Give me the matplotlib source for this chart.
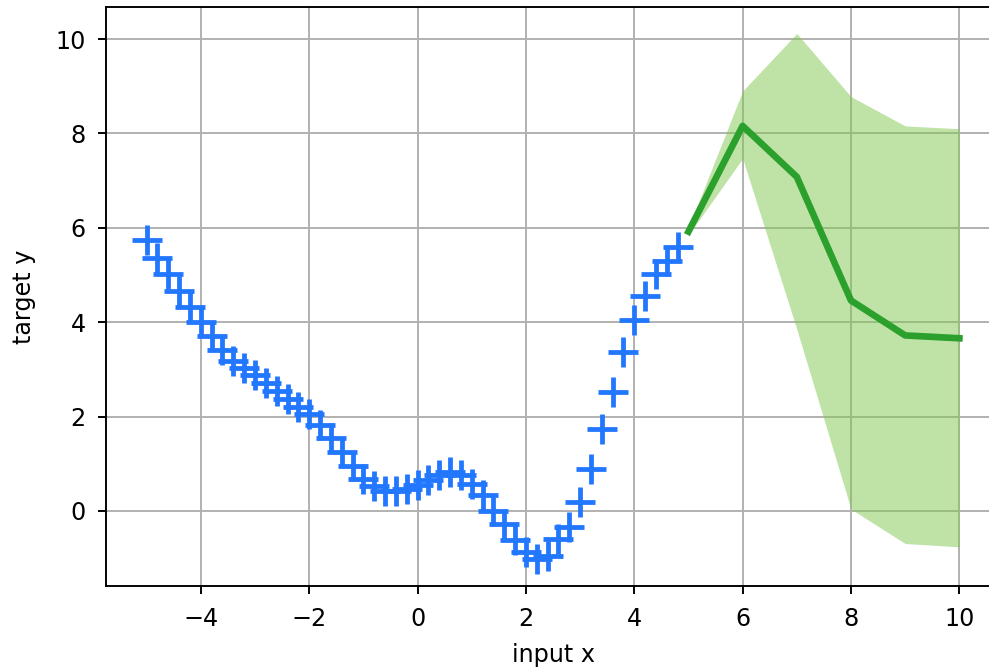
import numpy as np
import matplotlib
matplotlib.use("Agg")
import matplotlib.pyplot as plt

# training samples
x_train = [-5.0, -4.8, -4.6, -4.4, -4.2, -4.0, -3.8, -3.6, -3.4, -3.2,
           -3.0, -2.8, -2.6, -2.4, -2.2, -2.0, -1.8, -1.6, -1.4, -1.2,
           -1.0, -0.8, -0.6, -0.4, -0.2, 0.0, 0.2, 0.4, 0.6, 0.8,
           1.0, 1.2, 1.4, 1.6, 1.8, 2.0, 2.2, 2.4, 2.6, 2.8,
           3.0, 3.2, 3.4, 3.6, 3.8, 4.0, 4.2, 4.4, 4.6, 4.8]
y_train = [5.75, 5.36, 5.02, 4.67, 4.33, 4.00, 3.70, 3.42, 3.18, 3.03,
           2.89, 2.72, 2.55, 2.38, 2.20, 2.05, 1.82, 1.54, 1.25, 0.95,
           0.68, 0.52, 0.43, 0.42, 0.46, 0.54, 0.66, 0.76, 0.82, 0.76,
           0.58, 0.34, 0.00, -0.28, -0.62, -0.88, -1.02, -0.95, -0.60, -0.35,
           0.20, 0.88, 1.73, 2.52, 3.37, 4.05, 4.56, 5.02, 5.30, 5.60]

# forecast with uncertainty band
x_pred = [5, 6, 7, 8, 9, 10]
y_pred = [5.92, 8.16, 7.08, 4.46, 3.72, 3.66]
y_upper = [6.00, 8.90, 10.12, 8.78, 8.16, 8.10]
y_lower = [5.85, 7.47, 3.85, 0.04, -0.69, -0.76]

DPI = 172
fig = plt.figure(figsize=(990 / DPI, 670 / DPI), dpi=DPI)
ax = fig.add_axes([106 / 990, 84 / 670, 894 / 990, 579 / 670])

ax.fill_between(x_pred, y_lower, y_upper, color="#80c850", alpha=0.5,
                linewidth=0, zorder=1)
ax.plot(x_train, y_train, "+", color="#2277ff", markersize=12.5,
        markeredgewidth=2.0, zorder=3)
ax.plot(x_pred, y_pred, "-", color="#2ca02c", linewidth=2.8, zorder=4)

ax.set_xlim(-5.75, 10.75)
ax.set_ylim(-1.59, 10.68)
ax.set_xticks([-4, -2, 0, 2, 4, 6, 8, 10])
ax.set_yticks([0, 2, 4, 6, 8, 10])
ax.tick_params(axis="x", pad=5.5)
ax.tick_params(axis="y", pad=5.0)
ax.grid(True, zorder=0)
ax.set_axisbelow(True)
ax.set_xlabel("input x", labelpad=5)
ax.set_ylabel("target y", labelpad=8)

fig.savefig("out.png", dpi=DPI)
